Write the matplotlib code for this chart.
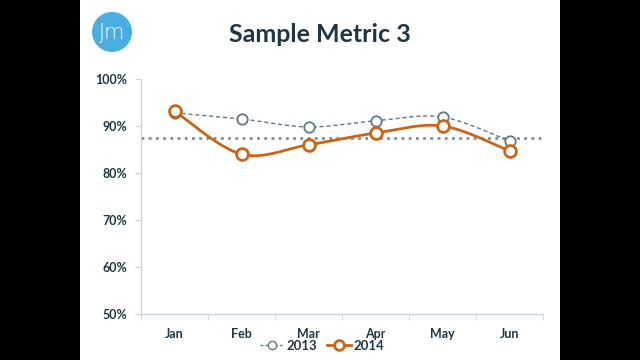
import numpy as np
import matplotlib
matplotlib.use('Agg')
from matplotlib import pyplot as plt
from matplotlib.patches import Rectangle, Ellipse
from matplotlib.lines import Line2D

months = ['Jan', 'Feb', 'Mar', 'Apr', 'May', 'Jun']
y2013 = [92.8, 91.5, 89.8, 91.1, 91.9, 86.8]
y2014 = [93.2, 84.0, 86.0, 88.5, 90.0, 84.7]
average = 87.4
yticks = [50, 60, 70, 80, 90, 100]

NAVY = '#1E3645'
BLUE_GREY = '#5E7A89'
ORANGE = '#CC6418'


def smooth(xs, ys, n=30):
    # catmull-rom through the points, like excel's smoothed line
    p = np.column_stack([xs, ys]).astype(float)
    p = np.vstack([p[0], p, p[-1]])
    out = []
    for i in range(1, len(p) - 2):
        p0, p1, p2, p3 = p[i - 1], p[i], p[i + 1], p[i + 2]
        t = np.linspace(0, 1, n)[:, None]
        c = 0.5 * ((2 * p1) + (-p0 + p2) * t + (2 * p0 - 5 * p1 + 4 * p2 - p3) * t ** 2
                   + (-p0 + 3 * p1 - 3 * p2 + p3) * t ** 3)
        out.append(c)
    c = np.vstack(out)
    return c[:, 0], c[:, 1]


fig = plt.figure(figsize=(6.4, 3.6), dpi=100, facecolor='black')
fig.patches.append(Rectangle((80 / 640, 0), 480 / 640, 1, transform=fig.transFigure,
                             facecolor='white', edgecolor='none', zorder=-5))

# logo
fig.patches.append(Ellipse((112 / 640, 1 - 32 / 360), 40 / 640, 40 / 360, transform=fig.transFigure,
                           facecolor='#4AADE0', edgecolor='none', zorder=1))
fig.text(112 / 640, 1 - 33 / 360, 'Jm', color='white', fontsize=15, fontweight='light',
         family='DejaVu Sans', ha='center', va='center', zorder=2)

fig.text(320 / 640, 1 - 34 / 360, 'Sample Metric 3', color=NAVY, fontsize=18,
         fontweight='bold', family='Lato', ha='center', va='center')

ax = fig.add_axes([141 / 640, 1 - 314 / 360, 402 / 640, 235 / 360], zorder=3)
ax.set_facecolor('none')
x = np.arange(len(months))

ax.axhline(average, color='#7E8E99', lw=2, ls=(0, (1, 1.6)), zorder=2)

sx, sy = smooth(x, y2013)
ax.plot(sx, sy, color=BLUE_GREY, lw=1, ls=(0, (3, 2)), zorder=3)
ax.plot(x, y2013, ls='none', marker='o', ms=7.5, mfc='white', mec=BLUE_GREY, mew=1.3, zorder=4)

sx, sy = smooth(x, y2014)
ax.plot(sx, sy, color=ORANGE, lw=2, zorder=5)
ax.plot(x, y2014, ls='none', marker='o', ms=8.5, mfc='white', mec=ORANGE, mew=2, zorder=6)

ax.set_xlim(-0.5, len(months) - 0.5)
ax.set_ylim(50, 100)
ax.set_yticks(yticks)
ax.set_yticklabels([f'{v}%' for v in yticks])
ax.set_xticks(x)
ax.set_xticklabels(months)
ax.set_xticks(np.arange(-0.5, len(months)), minor=True)

for s in ['top', 'right']:
    ax.spines[s].set_visible(False)
for s in ['left', 'bottom']:
    ax.spines[s].set_color('#C9D4DC')
    ax.spines[s].set_linewidth(1)

ax.tick_params(axis='x', which='major', length=0, pad=10)
ax.tick_params(axis='x', which='minor', length=4, color='#C9D4DC')
ax.tick_params(axis='y', length=4, color='#C9D4DC', pad=6)
for lab in ax.get_xticklabels() + ax.get_yticklabels():
    lab.set_fontweight('bold')
    lab.set_fontsize(9)
    lab.set_color(NAVY)
    lab.set_family('Lato')

handles = [
    Line2D([], [], color=BLUE_GREY, lw=1, ls=(0, (2, 1.5)), marker='o', ms=6,
           mfc='white', mec=BLUE_GREY, mew=1),
    Line2D([], [], color=ORANGE, lw=2, marker='o', ms=7, mfc='white', mec=ORANGE, mew=2),
]
leg = fig.legend(handles, ['2013', '2014'], loc='center', bbox_to_anchor=(322 / 640, 1 - 346 / 360),
                 ncol=2, frameon=False, handlelength=1.8, handletextpad=0.2, columnspacing=0.8,
                 prop={'family': 'Lato', 'weight': 'bold', 'size': 9.5})
for t in leg.get_texts():
    t.set_color(NAVY)

fig.savefig('out.png', dpi=100, facecolor='black')
